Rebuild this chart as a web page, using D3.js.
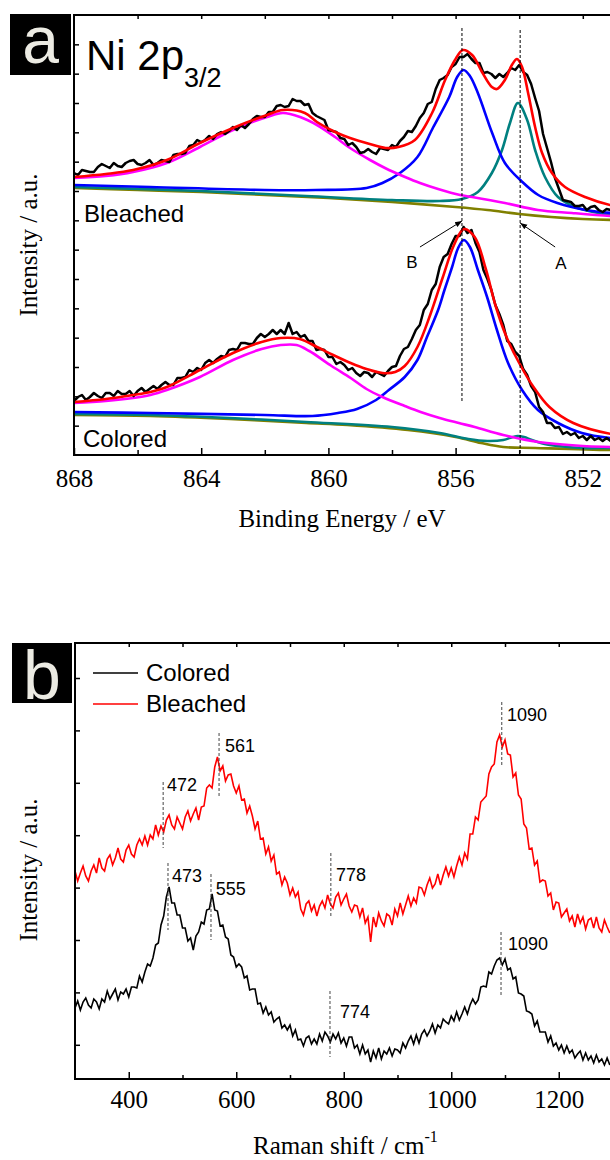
<!DOCTYPE html>
<html><head><meta charset="utf-8">
<script src="https://cdn.jsdelivr.net/npm/d3@7"></script>
<style>body{margin:0;background:#fff}svg{display:block}</style>
</head><body>
<svg id="c" width="610" height="1160"></svg>
<script>
// ---------- Panel a : XPS Ni 2p3/2 ----------
const xpsStart = 868, xpsStep = -0.125;
const bleachedRaw = [282,280,285,284,283,283,288,291,289,287,
292,289,288,292,294,295,291,290,292,295,
290,292,295,294,293,300,301,301,302,309,
310,315,313,315,319,316,321,323,321,324,
328,325,330,327,331,336,339,338,338,343,
343,349,350,348,349,356,354,354,350,351,
342,339,337,335,325,324,323,317,316,310,
312,308,302,303,306,303,301,307,306,305,
310,308,314,318,324,323,329,337,342,351,
353,366,375,377,380,388,391,398,398,401,
396,392,392,382,383,381,377,381,378,382,
387,385,390,383,380,371,357,344,321,307,
293,277,266,255,254,253,249,249,250,245,
248,249,245,243,246,245,247];
const coloredRaw = [54,58,60,55,58,62,59,57,62,62,
59,64,61,61,64,59,64,67,63,66,
69,66,70,73,70,70,77,77,78,85,
83,87,85,92,95,92,96,99,98,105,
106,105,112,112,111,111,117,121,118,121,
125,121,125,121,132,121,123,118,120,114,
114,105,106,105,98,98,91,93,90,85,
87,82,79,83,82,78,83,81,79,84,
88,89,99,106,108,116,125,130,145,151,
165,171,188,198,201,211,219,219,228,222,
225,212,203,185,176,165,150,141,130,114,
111,103,99,86,80,69,63,48,43,32,
32,27,28,21,23,20,22,17,19,15,
19,15,17,14,17,14,17];

const bleachedEnvelope = [[868,278],[867,281],[866.14,285],[865.08,295],[864.04,312],[863.0,327],[861.93,340],[861.43,345],[860.74,342],[860.36,333],[859.79,323],[859.32,317],[858.7,311],[858.2,307],[857.8,308],[857.28,315],[856.74,342],[856.33,375],[856.02,395],[855.77,405],[855.48,400],[855.17,383],[854.86,368],[854.7,366],[854.45,375],[854.23,390],[854.07,396],[853.91,388],[853.72,362],[853.5,328],[853.28,302],[852.97,282],[852.56,268],[851.93,258],[851.14,250],[850,245]];
const bleachedPeakB = [[868,270],[865.6,268],[862,265],[860.4,265],[858.8,267],[858.3,272],[857.75,282],[857.2,298],[856.7,328],[856.2,358],[855.95,378],[855.75,385],[855.55,379],[855.3,362],[854.85,322],[854.45,292],[853.9,273],[853.4,260],[852.8,252],[851.9,245],[851.1,242],[850,240]];
const bleachedPeakA = [[868,268],[864,264],[860.7,259],[858,255],[856.5,254],[855.8,256],[855.3,263],[854.86,282],[854.54,305],[854.29,332],[854.04,352],[853.75,335],[853.5,305],[853.19,278],[852.78,258],[852.15,247],[851.14,240],[850,237]];
const bleachedSat = [[868,277],[867,279],[866.14,283],[865.08,292],[864.04,308],[863.0,325],[861.93,338],[861.43,342],[860.89,338],[860.36,330],[859.79,318],[859.32,307],[858.69,295],[858.22,287],[857.59,278],[857.12,272],[856.55,266],[855.86,260],[855.48,258],[854.45,252],[853.41,245],[852.34,242],[851.14,239],[850,237]];
const bleachedBg = [[868,267],[866,265],[864,263],[862,260],[860,257],[858,253],[856,248],[855,245],[854,241],[853,238],[852,236],[851,235],[850,235]];

const coloredEnvelope = [[868,53],[867,56],[866.14,60],[865.6,63],[865.08,68],[864.04,85],[863.0,102],[862.1,113],[861.5,117],[860.9,116],[860.36,108],[859.85,100],[859.3,92],[858.8,86],[858.3,82],[857.9,83],[857.6,89],[857.2,108],[856.8,140],[856.4,178],[856.05,210],[855.74,226],[855.4,218],[855.05,186],[854.75,150],[854.4,118],[854.0,92],[853.55,68],[853.05,48],[852.3,32],[851.1,21],[850,18]];
const coloredPeakB = [[868,43],[865.6,42],[862,40],[860.5,39],[859.7,42],[859.1,46],[858.5,55],[858.1,65],[857.6,78],[857.2,95],[856.9,118],[856.55,145],[856.35,165],[856.11,188],[855.92,207],[855.74,215],[855.55,208],[855.3,185],[855.01,158],[854.7,125],[854.35,92],[853.91,65],[853.41,45],[852.78,32],[852.03,22],[851.14,17],[850,15]];
const coloredPeakA = [[868,41],[865.6,40],[863.1,37],[860.7,33],[858,28],[856.5,22],[855.6,16],[855.0,14],[854.5,15],[854.2,18],[854.05,19],[853.85,18],[853.6,15],[853.2,11],[852.8,9],[852,7],[851.1,7],[850,6]];
const coloredSat = [[868,52],[867,54],[866.14,57],[865.6,60],[865.08,65],[864.04,78],[863.0,95],[862.1,106],[861.5,110],[861.0,110],[860.6,104],[859.9,89],[859.3,77],[858.8,66],[858.3,58],[857.6,49],[857.1,43],[856.5,37],[855.9,32],[855.4,28],[854.5,20],[853.4,13],[852.0,9],[851.1,8],[850,7]];
const coloredBg = [[868,40],[865.6,39],[863.1,36],[860.7,32],[859.4,30],[857.5,25],[856,18],[855.2,12],[854.5,8],[853.5,7],[851.1,5],[850,5]];

const xpsMajorTicks = [868,864,860,856,852];
const xpsMinorTicks = [866,862,858,854,850];
const xpsTopTicks = [866,864,862,860,858,856,854,852];
const xpsMarkLines = [[855.8,427,52],[853.97,425,0]];
const xpsArrows = [{label:"B", from:[857.12,208], to:[855.8,234], text:[857.37,187]},
                   {label:"A", from:[852.87,208], to:[853.97,232], text:[852.69,186]}];

// ---------- Panel b : Raman ----------
const ramanStart = 300, ramanStep = 5;
const bleachedRaman = [208,198,206,213,203,198,208,214,206,221,
211,208,220,224,214,221,231,220,217,229,
234,225,222,234,240,234,243,234,244,240,
254,244,253,247,259,264,254,250,262,256,
250,262,268,258,265,271,259,272,273,291,
294,291,312,322,308,313,298,304,305,293,
286,293,279,280,266,273,263,250,258,240,
241,225,232,218,224,205,207,194,202,196,
184,191,182,187,170,164,175,178,168,174,
163,173,178,171,184,175,171,182,186,174,
180,185,173,167,174,173,162,171,156,162,
137,162,152,166,158,153,165,163,154,170,
163,176,165,174,183,173,181,176,192,191,
184,194,201,191,195,205,194,204,212,203,
211,202,213,222,214,226,220,245,245,262,
259,277,280,283,305,312,315,337,344,332,
339,325,324,302,306,284,280,255,251,230,
231,214,218,197,199,198,183,186,169,177,
176,162,166,170,158,163,152,165,156,162,
150,159,161,151,162,151,147,159,152,146];
const coloredRaman = [71,78,69,77,81,74,71,80,77,70,
80,77,88,80,85,90,79,87,85,90,
82,92,92,91,103,97,107,115,113,121,
134,136,154,163,182,192,176,176,164,164,
151,151,138,141,129,143,147,157,155,169,
170,185,169,168,153,154,142,140,124,122,
112,115,112,101,103,89,90,90,75,76,
66,72,64,67,57,60,62,51,54,49,
54,43,49,39,40,33,41,43,35,40,
35,45,38,47,43,37,45,40,46,36,
41,33,42,42,31,34,25,34,25,29,
17,28,21,31,20,28,25,31,23,30,
29,26,36,31,38,43,35,44,36,45,
49,43,48,55,46,54,51,60,57,55,
63,58,67,59,65,72,65,74,80,75,
79,92,93,92,107,105,113,119,121,114,
120,109,111,100,102,86,85,83,68,67,
65,53,58,47,47,47,37,43,33,36,
29,34,26,33,26,29,21,25,28,19,
26,19,23,16,24,17,20,14,21,14];
const ramanMajorTicks = [400,600,800,1000,1200];
const ramanMinorTicks = [500,700,900,1100,1300];
const ramanTopTicks = [400,500,600,700,800,900,1000,1100,1200,1300];
const ramanYTicks = [34.2,86.6,139,191.4,243.8,296.2,348.6,401];
// [line x, line top, line bottom, label text, label x, label y]
const ramanMarks = [[464,297,231,"472",471,288],[568,346,281,"561",579,327],
  [473,216,149,"473",480.5,197],[553,205,139,"555",562,184],
  [776,226,161,"778",785.6,198],[1094,377,312,"1090",1103.7,358],
  [1092.6,147,82,"1090",1105.6,129],[774.4,88,22,"774",793,61]];

// ---------- drawing ----------
const svg = d3.select("#c");
const SERIF = '"Liberation Serif","Times New Roman",Times,serif';
const SANS = '"Liberation Sans",Arial,sans-serif';

const xA = d3.scaleLinear().domain([868,850]).range([74, 74+18*31.8]);
const yA = d3.scaleLinear().domain([0,440]).range([455,15]);
const xB = d3.scaleLinear().domain([300,1400]).range([75, 75+1100*0.5375]);
const yB = d3.scaleLinear().domain([0,436]).range([1079,643]);

const defs = svg.append("defs");
defs.append("clipPath").attr("id","clipA").append("rect").attr("x",74).attr("y",15).attr("width",536).attr("height",440);
defs.append("clipPath").attr("id","clipB").append("rect").attr("x",75).attr("y",643).attr("width",535).attr("height",436);
defs.append("marker").attr("id","arr").attr("viewBox","0 0 10 10").attr("refX",10).attr("refY",5)
  .attr("markerWidth",7).attr("markerHeight",7).attr("orient","auto")
  .append("path").attr("d","M0,1 L10,5 L0,9 Z").attr("fill","#000");

function styleAxis(g, fs){
  g.attr("font-family",null).attr("font-size",null);
  g.select(".domain").remove();
  g.selectAll(".tick line").attr("stroke","#000").attr("stroke-width",1.5);
  g.selectAll(".tick text").style("font-family",SERIF).style("font-size",fs+"px").attr("fill","#000");
}

// ----- Panel a -----
const gA = svg.append("g");
const plotA = gA.append("g").attr("clip-path","url(#clipA)");
const smoothA = d3.line().x(d=>xA(d[0])).y(d=>yA(d[1])).curve(d3.curveCatmullRom.alpha(0.5));
const rawLineA = d3.line().x((d,i)=>xA(xpsStart + i*xpsStep)).y(d=>yA(d));

function drawFits(bg, a, sat, b, raw, env){
  [[bg,"#808000"],[a,"#008080"],[b,"#0000ff"],[sat,"#ff00ff"]].forEach(([d,c])=>{
    plotA.append("path").attr("d",smoothA(d)).attr("fill","none").attr("stroke",c).attr("stroke-width",2.6);
  });
  plotA.append("path").attr("d",rawLineA(raw)).attr("fill","none").attr("stroke","#000").attr("stroke-width",2.5).attr("stroke-linejoin","round");
  plotA.append("path").attr("d",smoothA(env)).attr("fill","none").attr("stroke","#ff0000").attr("stroke-width",2.6);
}
drawFits(bleachedBg, bleachedPeakA, bleachedSat, bleachedPeakB, bleachedRaw, bleachedEnvelope);
drawFits(coloredBg, coloredPeakA, coloredSat, coloredPeakB, coloredRaw, coloredEnvelope);

xpsMarkLines.forEach(([e,t,b])=>{
  gA.append("line").attr("x1",xA(e)).attr("x2",xA(e)).attr("y1",yA(t)).attr("y2",yA(b))
    .attr("stroke","#000").attr("stroke-width",1).attr("stroke-dasharray","3,2");
});
xpsArrows.forEach(a=>{
  gA.append("line").attr("x1",xA(a.from[0])).attr("y1",yA(a.from[1])).attr("x2",xA(a.to[0])).attr("y2",yA(a.to[1]))
    .attr("stroke","#000").attr("stroke-width",1).attr("marker-end","url(#arr)");
  gA.append("text").attr("x",xA(a.text[0])).attr("y",yA(a.text[1])).attr("text-anchor","middle")
    .attr("font-family",SANS).attr("font-size",17).text(a.label);
});

// axes a
gA.append("g").attr("transform","translate(0,455)").call(d3.axisBottom(xA).tickValues(xpsMajorTicks).tickSize(-7).tickPadding(14).tickFormat(d3.format("d"))).call(g=>styleAxis(g,25));
gA.append("g").attr("transform","translate(0,455)").call(d3.axisBottom(xA).tickValues(xpsMinorTicks).tickSize(-5).tickFormat("")).call(g=>styleAxis(g,25));
gA.append("g").attr("transform","translate(0,15)").call(d3.axisTop(xA).tickValues(xpsTopTicks).tickSize(-4).tickFormat("")).call(g=>styleAxis(g,25));
gA.append("g").attr("transform","translate(74,0)").call(d3.axisLeft(yA).tickValues(d3.range(1,15).map(k=>k*440/15)).tickSize(-5).tickFormat("")).call(g=>styleAxis(g,25));
gA.append("path").attr("d","M610,15 H74 V455 H610").attr("fill","none").attr("stroke","#000").attr("stroke-width",2);

gA.append("text").attr("x",342).attr("y",527).attr("text-anchor","middle").attr("font-family",SERIF).attr("font-size",25).text("Binding Energy / eV");
gA.append("text").attr("transform","translate(37,245) rotate(-90)").attr("text-anchor","middle").attr("font-family",SERIF).attr("font-size",25).text("Intensity / a.u.");
gA.append("text").attr("x",84).attr("y",222).attr("font-family",SANS).attr("font-size",24).text("Bleached");
gA.append("text").attr("x",83).attr("y",447).attr("font-family",SANS).attr("font-size",24).text("Colored");
const ni = gA.append("text").attr("x",86).attr("y",70).attr("font-family",SANS).attr("font-size",42);
ni.append("tspan").text("Ni 2p");
ni.append("tspan").attr("font-size",27).attr("dy",17).text("3/2");
gA.append("rect").attr("x",10).attr("y",14).attr("width",61).attr("height",61).attr("fill","#000");
gA.append("text").attr("x",40.5).attr("y",63).attr("text-anchor","middle").attr("font-family",SANS).attr("font-size",66).attr("fill","#ecebe3").text("a");

// ----- Panel b -----
const gB = svg.append("g");
const plotB = gB.append("g").attr("clip-path","url(#clipB)");
const ramanLine = d3.line().x((d,i)=>xB(ramanStart + i*ramanStep)).y(d=>yB(d));
plotB.append("path").attr("d",ramanLine(bleachedRaman)).attr("fill","none").attr("stroke","#ff0000").attr("stroke-width",1.6);
plotB.append("path").attr("d",ramanLine(coloredRaman)).attr("fill","none").attr("stroke","#000").attr("stroke-width",1.6);

ramanMarks.forEach(([w,t,b,lab,lx,ly])=>{
  gB.append("line").attr("x1",xB(w)).attr("x2",xB(w)).attr("y1",yB(t)).attr("y2",yB(b))
    .attr("stroke","#444").attr("stroke-width",1).attr("stroke-dasharray","3,2");
  gB.append("text").attr("x",xB(lx)).attr("y",yB(ly)).attr("font-family",SANS).attr("font-size",18).text(lab);
});

gB.append("g").attr("transform","translate(0,1079)").call(d3.axisBottom(xB).tickValues(ramanMajorTicks).tickSize(-7).tickPadding(11).tickFormat(d3.format("d"))).call(g=>styleAxis(g,25));
gB.append("g").attr("transform","translate(0,1079)").call(d3.axisBottom(xB).tickValues(ramanMinorTicks).tickSize(-4).tickFormat("")).call(g=>styleAxis(g,25));
gB.append("g").attr("transform","translate(0,643)").call(d3.axisTop(xB).tickValues(ramanTopTicks).tickSize(-4).tickFormat("")).call(g=>styleAxis(g,25));
gB.append("g").attr("transform","translate(75,0)").call(d3.axisLeft(yB).tickValues(ramanYTicks).tickSize(-5).tickFormat("")).call(g=>styleAxis(g,25));
gB.append("path").attr("d","M610,643 H75 V1079 H610").attr("fill","none").attr("stroke","#000").attr("stroke-width",2);

const xl = gB.append("text").attr("x",253).attr("y",1154).attr("font-family",SERIF).attr("font-size",25);
xl.append("tspan").text("Raman shift / cm");
xl.append("tspan").attr("font-size",16).attr("dy",-12).text("-1");
gB.append("text").attr("transform","translate(37,870) rotate(-90)").attr("text-anchor","middle").attr("font-family",SERIF).attr("font-size",25).text("Intensity / a.u.");

// legend
[["Colored","#000",673],["Bleached","#ff0000",704]].forEach(([t,c,y])=>{
  gB.append("line").attr("x1",93).attr("x2",138).attr("y1",y).attr("y2",y).attr("stroke",c).attr("stroke-width",1.3);
  gB.append("text").attr("x",146).attr("y",y+8).attr("font-family",SANS).attr("font-size",24).text(t);
});
gB.append("rect").attr("x",12).attr("y",643).attr("width",60).attr("height",60).attr("fill","#000");
gB.append("text").attr("x",42).attr("y",699).attr("text-anchor","middle").attr("font-family",SANS).attr("font-size",68).attr("fill","#ecebe3").text("b");
</script>
</body></html>
